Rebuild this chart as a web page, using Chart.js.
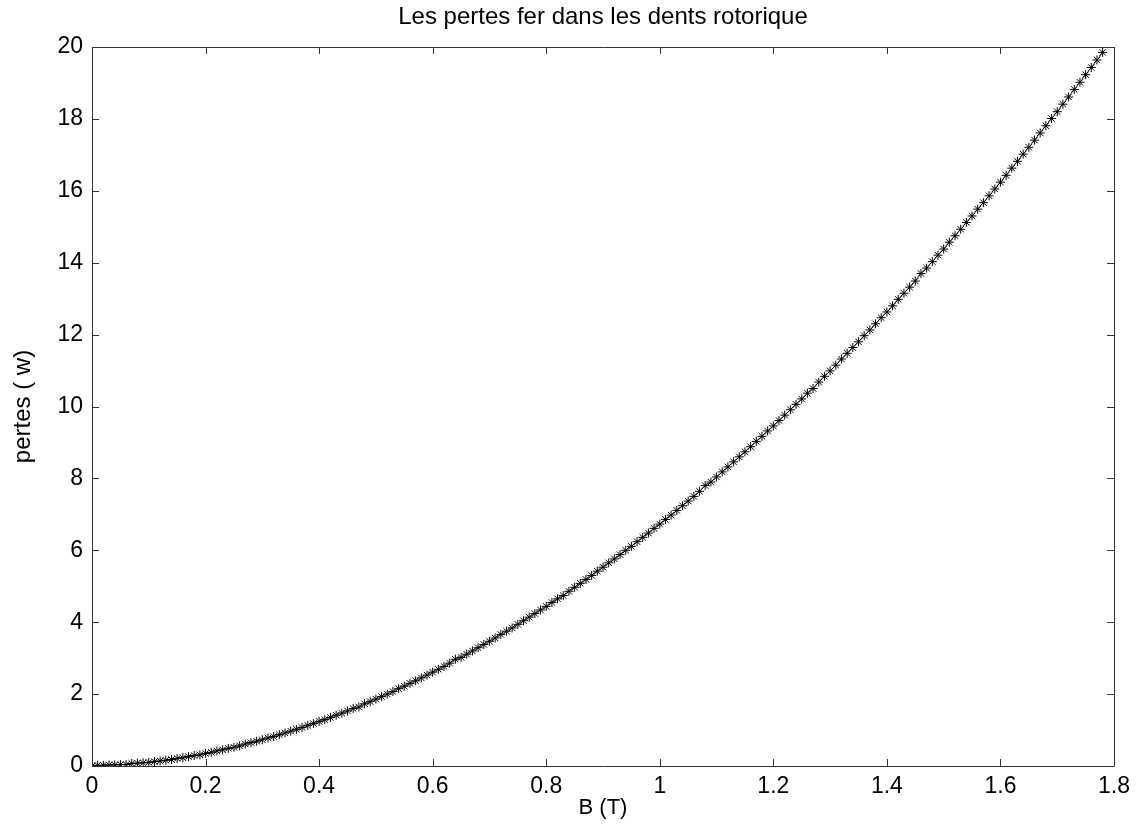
<!DOCTYPE html>
<html>
<head>
<meta charset="utf-8">
<script src="https://cdn.jsdelivr.net/npm/chart.js@4"></script>
<style>
    html, body { margin: 0; padding: 0; background: #fff; }
    #wrap { width: 1141px; height: 827px; }
</style>
</head>
<body>
<div id="wrap"><canvas id="pertesChart" width="1141" height="827"></canvas></div>
<script>
const chartTitle = 'Les pertes fer dans les dents rotorique';
const xTitle = 'B (T)';
const yTitle = 'pertes ( w)';

// induction B (T)
const bValues = [
    0.00, 0.01, 0.02, 0.03, 0.04, 0.05, 0.06, 0.07, 0.08, 0.09,
    0.10, 0.11, 0.12, 0.13, 0.14, 0.15, 0.16, 0.17, 0.18, 0.19,
    0.20, 0.21, 0.22, 0.23, 0.24, 0.25, 0.26, 0.27, 0.28, 0.29,
    0.30, 0.31, 0.32, 0.33, 0.34, 0.35, 0.36, 0.37, 0.38, 0.39,
    0.40, 0.41, 0.42, 0.43, 0.44, 0.45, 0.46, 0.47, 0.48, 0.49,
    0.50, 0.51, 0.52, 0.53, 0.54, 0.55, 0.56, 0.57, 0.58, 0.59,
    0.60, 0.61, 0.62, 0.63, 0.64, 0.65, 0.66, 0.67, 0.68, 0.69,
    0.70, 0.71, 0.72, 0.73, 0.74, 0.75, 0.76, 0.77, 0.78, 0.79,
    0.80, 0.81, 0.82, 0.83, 0.84, 0.85, 0.86, 0.87, 0.88, 0.89,
    0.90, 0.91, 0.92, 0.93, 0.94, 0.95, 0.96, 0.97, 0.98, 0.99,
    1.00, 1.01, 1.02, 1.03, 1.04, 1.05, 1.06, 1.07, 1.08, 1.09,
    1.10, 1.11, 1.12, 1.13, 1.14, 1.15, 1.16, 1.17, 1.18, 1.19,
    1.20, 1.21, 1.22, 1.23, 1.24, 1.25, 1.26, 1.27, 1.28, 1.29,
    1.30, 1.31, 1.32, 1.33, 1.34, 1.35, 1.36, 1.37, 1.38, 1.39,
    1.40, 1.41, 1.42, 1.43, 1.44, 1.45, 1.46, 1.47, 1.48, 1.49,
    1.50, 1.51, 1.52, 1.53, 1.54, 1.55, 1.56, 1.57, 1.58, 1.59,
    1.60, 1.61, 1.62, 1.63, 1.64, 1.65, 1.66, 1.67, 1.68, 1.69,
    1.70, 1.71, 1.72, 1.73, 1.74, 1.75, 1.76, 1.77, 1.78
];

// pertes fer (W)
const pertes = [
    0.00, 0.02, 0.02, 0.03, 0.03, 0.04, 0.04, 0.07, 0.08, 0.09,
    0.10, 0.12, 0.14, 0.16, 0.18, 0.21, 0.23, 0.26, 0.29, 0.31,
    0.35, 0.38, 0.42, 0.45, 0.49, 0.52, 0.56, 0.61, 0.65, 0.69,
    0.73, 0.78, 0.82, 0.87, 0.92, 0.97, 1.02, 1.07, 1.13, 1.18,
    1.24, 1.29, 1.35, 1.41, 1.47, 1.53, 1.60, 1.64, 1.73, 1.79,
    1.86, 1.93, 2.00, 2.07, 2.15, 2.22, 2.30, 2.37, 2.45, 2.53,
    2.61, 2.69, 2.77, 2.86, 2.97, 3.02, 3.11, 3.20, 3.29, 3.38,
    3.47, 3.56, 3.66, 3.75, 3.84, 3.94, 4.04, 4.14, 4.24, 4.34,
    4.44, 4.55, 4.65, 4.74, 4.86, 4.97, 5.08, 5.19, 5.30, 5.42,
    5.53, 5.65, 5.76, 5.88, 6.00, 6.11, 6.24, 6.36, 6.48, 6.61,
    6.73, 6.86, 6.98, 7.11, 7.24, 7.37, 7.50, 7.64, 7.80, 7.90,
    8.04, 8.18, 8.32, 8.46, 8.60, 8.74, 8.88, 9.03, 9.17, 9.32,
    9.46, 9.61, 9.76, 9.91, 10.06, 10.21, 10.37, 10.50, 10.68, 10.84,
    10.99, 11.15, 11.32, 11.48, 11.64, 11.80, 11.97, 12.13, 12.30, 12.47,
    12.63, 12.80, 12.98, 13.15, 13.32, 13.49, 13.70, 13.85, 14.03, 14.21,
    14.38, 14.57, 14.75, 14.93, 15.12, 15.30, 15.49, 15.67, 15.86, 16.05,
    16.24, 16.43, 16.63, 16.82, 17.02, 17.21, 17.41, 17.61, 17.81, 18.01,
    18.20, 18.41, 18.61, 18.82, 19.02, 19.23, 19.43, 19.64, 19.85
];

const fontFamily = '"Liberation Sans", Arial, sans-serif';
const fontSize = 23;

// boîte + graduations intérieures façon matlab
const boxTicks = {
    id: 'boxTicks',
    afterDraw(chart) {
        const ctx = chart.ctx;
        const a = chart.chartArea;
        const xs = chart.scales.x;
        const ys = chart.scales.y;
        const len = 7;
        ctx.save();
        ctx.strokeStyle = '#333';
        ctx.lineWidth = 1;
        ctx.beginPath();
        ctx.rect(Math.round(a.left) + 0.5, Math.round(a.top) + 0.5,
            Math.round(a.right - a.left), Math.round(a.bottom - a.top));
        xs.ticks.forEach(t => {
            const px = Math.round(xs.getPixelForValue(t.value)) + 0.5;
            ctx.moveTo(px, a.bottom);
            ctx.lineTo(px, a.bottom - len);
            ctx.moveTo(px, a.top);
            ctx.lineTo(px, a.top + len);
        });
        ys.ticks.forEach(t => {
            const py = Math.round(ys.getPixelForValue(t.value)) + 0.5;
            ctx.moveTo(a.left, py);
            ctx.lineTo(a.left + len, py);
            ctx.moveTo(a.right, py);
            ctx.lineTo(a.right - len, py);
        });
        ctx.stroke();
        ctx.restore();
    }
};

new Chart(document.getElementById('pertesChart'), {
    type: 'line',
    data: {
        datasets: [{
            data: bValues.map((b, i) => ({x: b, y: pertes[i]})),
            borderColor: '#444',
            borderWidth: 1,
            pointStyle: 'star',
            pointRadius: 4.5,
            pointBorderColor: '#000',
            pointBorderWidth: 1,
            pointBackgroundColor: '#000',
            fill: false,
            tension: 0
        }]
    },
    options: {
        responsive: false,
        animation: false,
        devicePixelRatio: 1,
        layout: {padding: {left: 0, right: 27, top: 0, bottom: 0}},
        plugins: {
            legend: {display: false},
            tooltip: {enabled: false},
            title: {
                display: true,
                fullSize: false,
                text: chartTitle,
                color: '#000',
                font: {family: fontFamily, size: 24, weight: 'normal'},
                padding: {top: 3, bottom: 15.2}
            }
        },
        scales: {
            x: {
                type: 'linear',
                min: 0,
                max: 1.8,
                grid: {display: false, drawTicks: false},
                border: {display: false},
                ticks: {
                    stepSize: 0.2,
                    autoSkip: false,
                    maxRotation: 0,
                    padding: 7,
                    color: '#000',
                    font: {family: fontFamily, size: fontSize},
                    callback: v => String(Number(v.toFixed(1)))
                },
                title: {
                    display: true,
                    text: xTitle,
                    color: '#000',
                    font: {family: fontFamily, size: 22},
                    padding: {top: 0, bottom: 6}
                },
                afterFit(scale) { scale.height = 61; }
            },
            y: {
                min: 0,
                max: 20,
                grid: {display: false, drawTicks: false},
                border: {display: false},
                ticks: {
                    stepSize: 2,
                    autoSkip: false,
                    padding: 9,
                    color: '#000',
                    font: {family: fontFamily, size: fontSize}
                },
                title: {
                    display: true,
                    text: yTitle,
                    color: '#000',
                    font: {family: fontFamily, size: 24},
                    padding: {top: 9, bottom: 0}
                },
                afterFit(scale) { scale.width = 92; }
            }
        }
    },
    plugins: [boxTicks]
});
</script>
</body>
</html>
